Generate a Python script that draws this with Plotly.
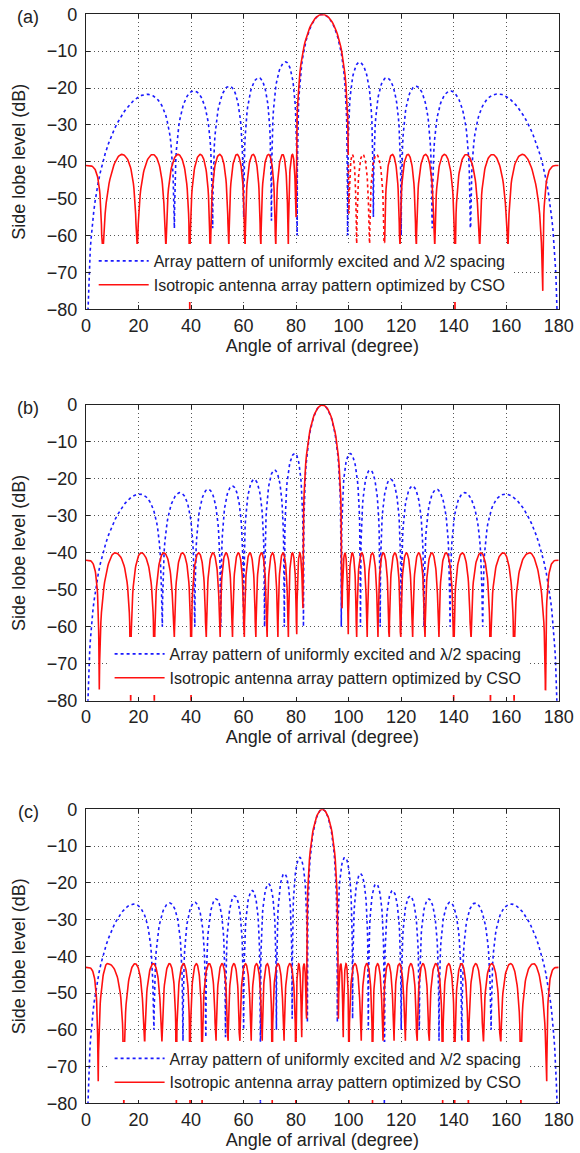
import numpy as np
import plotly.graph_objects as go

# ---------------- data (angles in degree, levels in dB) -------------
# Panel (a)
A_BLUE_NULLS = [0, 33.6, 48.2, 60.0, 70.6, 80.4, 99.6, 109.4, 120.0, 131.8, 146.4, 180]
A_BLUE_NULL_DB = [-95, -58, -58, -55, -56, -60, -60, -55, -60, -58, -58, -95]
A_BLUE_PEAK_X = [23.2, 41.0, 54.6, 65.8, 76.0, 90.0, 104.1, 114.5, 125.6, 138.8, 156.9]
A_BLUE_PEAK_DB = [-21.7, -20.8, -19.5, -17.2, -12.9, 0.0, -13.0, -17.2, -19.5, -20.8, -21.6]

A_RED_NULLS = [0, 6.2, 19.4, 30.3, 39.5, 47.3, 54.3, 60.5, 66.5, 72.2, 77.0, 80.0,
               100.0, 103.0, 107.9, 113.6, 119.5, 125.7, 132.7, 140.5, 149.8, 160.6, 173.9, 180]
A_RED_NULL_DB = [-41, -63, -63, -63, -82, -63, -63, -63, -63, -63, -63, -55,
                 -54, -63, -63, -63, -63, -63, -63, -82, -63, -63, -75, -41]
A_RED_PEAK_X = [0, 13.6, 25.4, 35.0, 43.5, 50.9, 57.5, 63.6, 69.5, 74.9, 78.6, 90.0,
                101.4, 105.4, 110.6, 116.6, 122.6, 129.3, 136.5, 144.8, 154.8, 166.2, 180]
A_RED_PEAK_DB = [-41, -38, -38, -38, -38, -38, -38, -38, -38, -38, -38, 0.0,
                 -38, -38, -38, -38, -38, -38, -38, -38, -38, -38, -41]
A_RED_DOTTED = [99.9, 113.7]

# Panel (b)
B_BLUE_NULLS = [0, 29.0, 41.4, 51.3, 60.0, 68.0, 75.5, 82.8, 97.2, 104.5, 112.0, 120.0,
                128.7, 138.6, 151.0, 180]
B_BLUE_NULL_DB = [-95, -60, -60, -60, -60, -60, -60, -60, -60, -60, -60, -60, -60, -60, -60, -95]
B_BLUE_PEAK_X = [20.3, 35.8, 46.5, 55.7, 64.0, 71.8, 79.5, 90.0, 100.5, 108.2, 116.0,
                 124.3, 133.5, 144.2, 159.7]
B_BLUE_PEAK_DB = [-24.1, -23.7, -22.8, -21.9, -20.1, -17.6, -13.1, 0.0, -13.1, -17.6,
                  -20.1, -21.9, -22.8, -23.7, -24.1]

B_RED_NULLS = [0, 5.0, 17.0, 26.0, 33.5, 40.0, 45.7, 51.0, 55.7, 60.2, 64.6, 68.9, 73.0,
               77.0, 80.2, 82.6, 97.4, 99.8, 103.0, 107.0, 111.1, 115.4, 119.8, 124.3,
               129.0, 134.3, 140.0, 146.5, 154.0, 163.0, 175.0, 180]
B_RED_NULL_DB = [-42, -77, -82, -82, -63, -82, -63, -63, -63, -63, -63, -63, -63, -63, -62, -55,
                 -55, -62, -63, -63, -63, -63, -63, -63, -63, -63, -82, -63, -82, -82, -77, -42]
B_RED_PEAK_X = [0, 11.0, 21.0, 29.6, 36.7, 42.9, 48.3, 53.3, 58.0, 62.4, 66.8, 71.0, 75.0,
                78.6, 81.4, 90.0, 98.6, 101.4, 105.0, 109.0, 113.2, 117.6, 122.0, 126.7,
                131.7, 137.1, 143.3, 150.4, 159.0, 169.0, 180]
B_RED_PEAK_DB = [-42] + [-40] * 14 + [0.0] + [-40] * 14 + [-42]

# Panel (c)
C_BLUE_NULLS = [0, 25.8, 36.9, 45.6, 53.1, 60.0, 66.4, 72.5, 78.5, 84.3, 95.7, 101.5,
                107.5, 113.6, 120.0, 126.9, 134.4, 143.1, 154.2, 180]
C_BLUE_NULL_DB = [-95, -60, -63, -62, -62, -60, -82, -60, -57, -58, -58, -57, -60, -82,
                  -60, -60, -63, -63, -60, -95]
C_BLUE_PEAK_X = [18.2, 31.8, 41.4, 49.5, 56.6, 63.3, 69.5, 75.5, 81.4, 90.0, 98.6, 104.5,
                 110.5, 116.7, 123.4, 130.5, 138.6, 148.2, 161.8]
C_BLUE_PEAK_DB = [-25.8, -25.5, -25.3, -24.4, -23.6, -22.1, -20.3, -17.5, -13.1, 0.0,
                  -13.1, -17.5, -20.3, -22.1, -23.6, -24.4, -25.3, -25.5, -25.8]

C_RED_NULLS = [0, 4.6, 14.4, 22.2, 28.8, 34.4, 39.6, 44.2, 49.4, 54.0, 58.5, 62.8, 67.0,
               70.9, 75.3, 79.9, 82.1, 84.0, 96.0, 97.9, 100.1, 104.7, 109.1, 113.0, 117.2,
               121.5, 126.0, 130.6, 135.8, 140.4, 145.6, 151.2, 157.8, 165.6, 175.4, 180]
C_RED_NULL_DB = [-43, -74, -82, -63, -63, -82, -82, -82, -63, -63, -63, -63, -63, -82, -63,
                 -82, -62, -57, -57, -62, -82, -63, -82, -63, -63, -63, -63, -63, -82, -82,
                 -82, -63, -63, -82, -74, -43]
C_RED_PEAK_X = [0, 8.1, 18.7, 25.6, 31.8, 37.1, 42.0, 46.9, 51.8, 56.3, 60.7, 64.9, 69.0,
                73.1, 77.6, 81.0, 83.0, 90.0, 97.0, 99.0, 102.4, 106.9, 111.0, 115.1, 119.3,
                123.7, 128.3, 133.2, 138.1, 143.0, 148.4, 154.5, 161.7, 170.5, 180]
C_RED_PEAK_DB = [-43] + [-42] * 16 + [0.0] + [-42] * 16 + [-43]

X_TICKS = [0, 20, 40, 60, 80, 100, 120, 140, 160, 180]
Y_TICKS = [0, -10, -20, -30, -40, -50, -60, -70, -80]
PANEL_LABELS = ["(a)", "(b)", "(c)"]
LEGEND_NAMES = ["Array pattern of uniformly excited and \u03bb/2 spacing",
                "Isotropic antenna array pattern optimized by CSO"]
X_TITLE = "Angle of arrival (degree)"
Y_TITLE = "Side lobe level (dB)"

# ---------------- rendering helpers ----------------
# resolution used to draw each half lobe between a null and its peak
S_STEPS = np.concatenate([[0.0], np.geomspace(0.002, 0.1, 14), np.linspace(0.14, 1.0, 22)])


def lobe_shape(s, main):
    """relative amplitude (0..1) of a lobe at fraction s from null (0) to peak (1)"""
    if main:
        return 1.0 if s >= 1 else np.sin(np.pi * s) / (np.pi * (1 - s))
    return np.sin(np.pi / 2 * s)


def lobe_curve(nulls, null_db, peak_x, peak_db):
    xs, ys = [], []
    for i in range(len(peak_x)):
        b0, b1 = nulls[i], nulls[i + 1]
        p, h = peak_x[i], peak_db[i]
        main = h >= 0
        for (b, d, order) in ((b0, null_db[i], 1), (b1, null_db[i + 1], -1)):
            if abs(p - b) < 1e-9:
                if order == 1:
                    xs.append(p)
                    ys.append(h)
                continue
            steps = S_STEPS if order == 1 else S_STEPS[::-1]
            ub, up = np.cos(np.radians(b)), np.cos(np.radians(p))
            for s in steps:
                th = np.degrees(np.arccos(np.clip(ub + s * (up - ub), -1, 1)))
                if s <= 0:
                    y = d
                else:
                    y = max(h + 20 * np.log10(lobe_shape(s, main)), d)
                xs.append(th)
                ys.append(y)
    return np.array(xs), np.array(ys)


FONT = "Liberation Sans, Arial, sans-serif"
BLUE = "#1a1aff"
RED = "#ff1010"

W, H = 580, 1153
X_DOM = [86 / W, 558.7 / W]
Y_DOMS = [[1 - 309.3 / H, 1 - 14.3 / H], [1 - 700.7 / H, 1 - 405 / H], [1 - 1103.3 / H, 1 - 809.3 / H]]
# legend box left edge and top, in pixels
LEG_POS = [(93.7, 244.0), (109.6, 637.0), (109.6, 1041.5)]

panels = [
    (A_BLUE_NULLS, A_BLUE_NULL_DB, A_BLUE_PEAK_X, A_BLUE_PEAK_DB,
     A_RED_NULLS, A_RED_NULL_DB, A_RED_PEAK_X, A_RED_PEAK_DB, A_RED_DOTTED),
    (B_BLUE_NULLS, B_BLUE_NULL_DB, B_BLUE_PEAK_X, B_BLUE_PEAK_DB,
     B_RED_NULLS, B_RED_NULL_DB, B_RED_PEAK_X, B_RED_PEAK_DB, None),
    (C_BLUE_NULLS, C_BLUE_NULL_DB, C_BLUE_PEAK_X, C_BLUE_PEAK_DB,
     C_RED_NULLS, C_RED_NULL_DB, C_RED_PEAK_X, C_RED_PEAK_DB, None),
]

fig = go.Figure()
layout = dict(width=W, height=H, margin=dict(l=0, r=0, t=0, b=0, pad=0, autoexpand=False),
              paper_bgcolor="white", plot_bgcolor="white",
              font=dict(family=FONT, size=18, color="#222"), annotations=[])

for k, pan in enumerate(panels):
    bn, bd, bpx, bpy, rn, rd, rpx, rpy, dotted = pan
    sfx = "" if k == 0 else str(k + 1)
    xa, ya = "x" + sfx, "y" + sfx
    leg = "legend" + sfx
    bx, by = lobe_curve(bn, bd, bpx, bpy)
    rx, ry = lobe_curve(rn, rd, rpx, rpy)
    fig.add_trace(go.Scatter(x=bx, y=by, mode="lines", name=LEGEND_NAMES[0],
                             line=dict(color=BLUE, width=1.6, dash="dot"),
                             xaxis=xa, yaxis=ya, legend=leg))
    if dotted is None:
        fig.add_trace(go.Scatter(x=rx, y=ry, mode="lines", name=LEGEND_NAMES[1],
                                 line=dict(color=RED, width=1.6),
                                 xaxis=xa, yaxis=ya, legend=leg))
    else:
        lo, hi = dotted
        m1 = rx <= lo
        m2 = (rx >= lo) & (rx <= hi)
        m3 = rx >= hi
        fig.add_trace(go.Scatter(x=rx[m1], y=ry[m1], mode="lines", name=LEGEND_NAMES[1],
                                 line=dict(color=RED, width=1.6),
                                 xaxis=xa, yaxis=ya, legend=leg))
        fig.add_trace(go.Scatter(x=rx[m2], y=ry[m2], mode="lines", showlegend=False,
                                 line=dict(color=RED, width=1.6, dash="dot"),
                                 xaxis=xa, yaxis=ya))
        fig.add_trace(go.Scatter(x=rx[m3], y=ry[m3], mode="lines", showlegend=False,
                                 line=dict(color=RED, width=1.6),
                                 xaxis=xa, yaxis=ya))
    axcommon = dict(showline=True, linecolor="#222", linewidth=1.2, mirror="ticks",
                    ticks="inside", ticklen=4, tickcolor="#222", automargin=False,
                    showgrid=True, gridcolor="#555", griddash="1px,3px", gridwidth=1,
                    zeroline=False, tickfont=dict(size=18, family=FONT, color="#222"))
    layout["xaxis" + sfx] = dict(axcommon, domain=X_DOM, range=[0, 180], tickvals=X_TICKS,
                                 anchor=ya, title=dict(text=X_TITLE, standoff=3,
                                                       font=dict(size=18, family=FONT)))
    layout["yaxis" + sfx] = dict(axcommon, domain=Y_DOMS[k], range=[-80, 0], tickvals=Y_TICKS,
                                 anchor=xa, ticklabelstandoff=4,
                                 title=dict(text=Y_TITLE, standoff=16,
                                            font=dict(size=18, family=FONT)))
    layout[leg] = dict(x=LEG_POS[k][0] / W, y=1 - LEG_POS[k][1] / H, xanchor="left",
                       yanchor="top", bgcolor="white", borderwidth=0,
                       font=dict(size=16, family=FONT, color="#222"),
                       tracegroupgap=0, itemwidth=50)
    layout["annotations"].append(dict(text=PANEL_LABELS[k], xref="paper", yref="paper",
                                      x=28 / W, y=Y_DOMS[k][1] - 2.5 / H, xanchor="center",
                                      yanchor="middle", showarrow=False,
                                      font=dict(size=18, family=FONT, color="#222")))

fig.update_layout(**layout)
fig.write_html("out.html", config={"displayModeBar": False},
               post_script="document.body.style.margin='0px';document.body.style.overflow='hidden';")
